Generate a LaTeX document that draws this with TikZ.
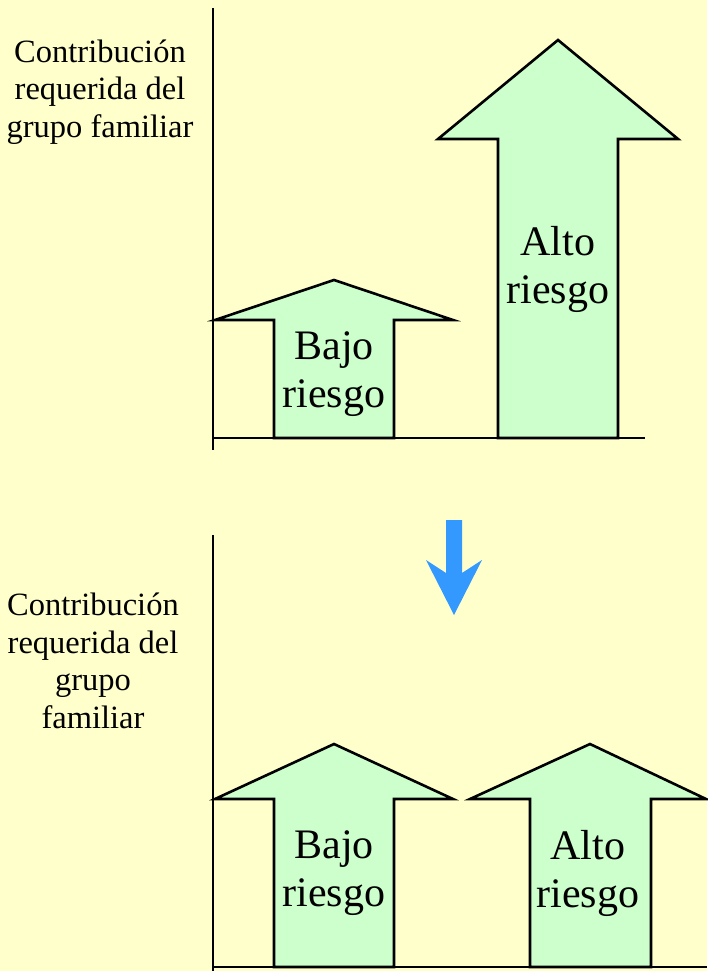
\documentclass[tikz,border=0pt]{standalone}
\usepackage{fontspec}
\setmainfont{Liberation Serif}
\definecolor{bgyellow}{HTML}{FFFFCC}
\definecolor{arrowgreen}{HTML}{CCFFCC}
\definecolor{downblue}{HTML}{3399FF}
\tikzset{
  upbox/.style={draw=black, line width=2.6pt, fill=arrowgreen, line join=miter},
  axisline/.style={line width=2.6pt},
  ylabel/.style={align=center, font=\fontsize{32.5}{37.5}\selectfont},
  risk/.style={align=center, font=\fontsize{42}{48}\selectfont}
}
\begin{document}
\begin{tikzpicture}[x=1pt, y=-1pt]
  \fill[bgyellow] (0,0) rectangle (707,971);
  \useasboundingbox (0,0) rectangle (707,971);
  % top chart
  \node[ylabel] (lblTop) at (100,92) {Contribución\\requerida del\\grupo familiar};
  \draw[upbox] (274,438) -- (274,320) -- (215,320) -- (334,280) -- (453,320) -- (394,320) -- (394,438) -- cycle;
  \draw[upbox] (498,438) -- (498,139) -- (438,139) -- (558,40) -- (678,139) -- (618,139) -- (618,438) -- cycle;
  \draw[axisline] (213,8) -- (213,450);
  \draw[axisline] (213,438) -- (645,438);
  \node[risk] (bajoTop) at (334,374) {Bajo\\riesgo};
  \node[risk] (altoTop) at (558,269) {Alto\\riesgo};
  % arrow between
  \fill[downblue] (446,520) -- (462,520) -- (462,573) -- (482,560) -- (454,615) -- (426,560) -- (446,573) -- cycle;
  % bottom chart
  \node[ylabel] (lblBottom) at (93,661) {Contribución\\requerida del\\grupo\\familiar};
  \draw[upbox] (274,967) -- (274,799) -- (215,799) -- (334,744) -- (453,799) -- (394,799) -- (394,967) -- cycle;
  \draw[upbox] (530,967) -- (530,799) -- (470,799) -- (590,744) -- (706,799) -- (651,799) -- (651,967) -- cycle;
  \draw[axisline] (213,535) -- (213,971);
  \draw[axisline] (213,967) -- (707,967);
  \node[risk] (bajoBottom) at (334,873) {Bajo\\riesgo};
  \node[risk] (altoBottom) at (588,873) {Alto\\riesgo};
\end{tikzpicture}
\end{document}
